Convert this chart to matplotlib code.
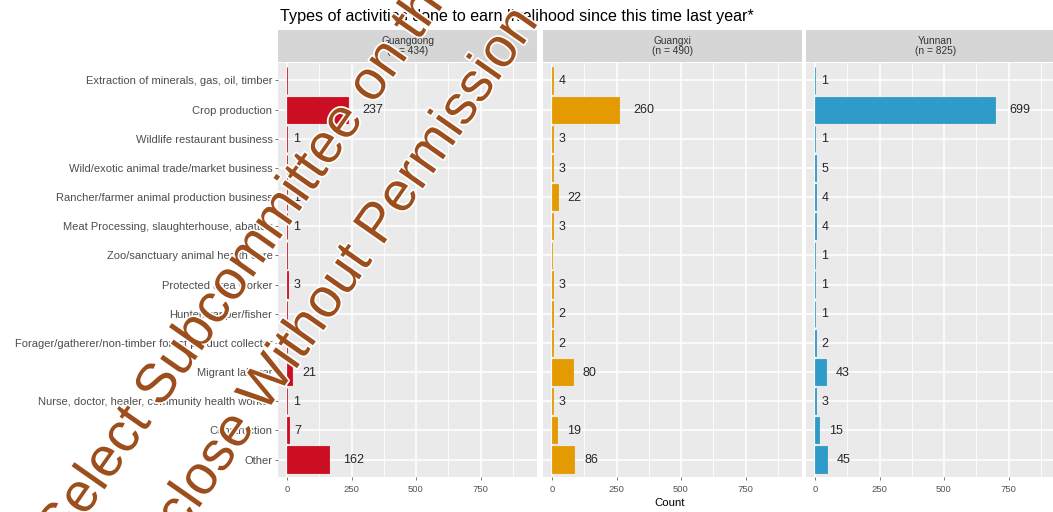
import numpy as np
import matplotlib
matplotlib.use("Agg")
import matplotlib.pyplot as plt
import matplotlib.patheffects as pe

plt.rcParams['font.family'] = "Liberation Sans"
plt.rcParams['axes.linewidth'] = 0

activities = [
    "Extraction of minerals, gas, oil, timber",
    "Crop production",
    "Wildlife restaurant business",
    "Wild/exotic animal trade/market business",
    "Rancher/farmer animal production business",
    "Meat Processing, slaughterhouse, abattoir",
    "Zoo/sanctuary animal health care",
    "Protected area worker",
    "Hunter/trapper/fisher",
    "Forager/gatherer/non-timber forest product collector",
    "Migrant laborer",
    "Nurse, doctor, healer, community health worker",
    "Construction",
    "Other",
]

provinces = ["Guangdong", "Guangxi", "Yunnan"]
sample_sizes = [434, 490, 825]
nan = np.nan
guangdong = [nan, 237, 1, nan, 1, 1, nan, 3, nan, nan, 21, 1, 7, 162]
guangxi = [4, 260, 3, 3, 22, 3, nan, 3, 2, 2, 80, 3, 19, 86]
yunnan = [1, 699, 1, 5, 4, 4, 1, 1, 1, 2, 43, 3, 15, 45]
counts = [guangdong, guangxi, yunnan]
colors = ["#cc0e22", "#e49b02", "#2f9bc8"]
x_ticks = [0, 250, 500, 750]

W, H = 1053, 512
fig = plt.figure(figsize=(W / 100, H / 100), dpi=100)

panel_left = [278, 543, 806]
panel_w = 259
panel_top, panel_bottom = 63, 477
strip_top = 30

y = np.arange(len(activities))

for i, (name, n, vals, col) in enumerate(zip(provinces, sample_sizes, counts, colors)):
    left = panel_left[i] / W
    ax = fig.add_axes([left, 1 - panel_bottom / H, panel_w / W, (panel_bottom - panel_top) / H])
    ax.set_facecolor("#eaeaea")
    ax.set_xlim(-35, 969)
    ax.set_ylim(len(activities) - 0.4, -0.6)

    # white grid, minor lines halfway between the majors
    for xv in np.arange(0, 1000, 125):
        ax.axvline(xv, color="white", lw=1.1 if xv % 250 == 0 else 0.6, zorder=0)
    for yv in y:
        ax.axhline(yv, color="white", lw=1.1, zorder=0)

    vals = np.array(vals, dtype=float)
    ax.barh(y, np.nan_to_num(vals), height=0.9, color=col, edgecolor=col, lw=0.6, zorder=2)
    for yi, v in zip(y, vals):
        if np.isnan(v):
            continue
        label = str(int(v))
        ax.annotate(label, (v, yi), xytext=(1.0 + 3.1 * len(label), -0.5),
                    textcoords="offset points", ha="left", va="center",
                    fontsize=9, color="#262626", zorder=3)

    ax.set_xticks(x_ticks)
    ax.set_xticklabels([str(t) for t in x_ticks])
    ax.tick_params(axis="x", length=2.5, width=0.5, color="#444444", labelsize=6.8,
                   labelcolor="#555555", pad=3)
    ax.set_yticks(y)
    if i == 0:
        ax.set_yticklabels(activities)
        ax.tick_params(axis="y", length=2.5, width=0.5, color="#444444", labelsize=8.0,
                       labelcolor="#4d4d4d", pad=1.5)
    else:
        ax.set_yticklabels([])
        ax.tick_params(axis="y", length=0)

    strip = fig.add_axes([left, 1 - (panel_top - 1) / H, panel_w / W, (panel_top - 1 - strip_top) / H])
    strip.set_facecolor("#d6d6d6")
    strip.set_xticks([])
    strip.set_yticks([])
    strip.text(0.5, 0.5, f"{name}\n(n = {n})", ha="center", va="center",
               fontsize=7.3, color="#333333", linespacing=1.0, transform=strip.transAxes)

fig.text(280 / W, 1 - 16 / H, "Types of activities done to earn livelihood since this time last year*",
         ha="left", va="center", fontsize=11.6, color="black")
fig.text(670 / W, 1 - 503 / H, "Count", ha="center", va="center", fontsize=8.2, color="black")

# diagonal watermark
mark_style = dict(rotation=55, rotation_mode="anchor", ha="left", va="center",
                  fontsize=40, color="#9c4e1c", zorder=10,
                  path_effects=[pe.withStroke(linewidth=2.5, foreground="white")])
fig.text(52 / W, 1 - 540 / H, "Select Subcommittee on the", **mark_style)
fig.text(16 / W, 1 - 745 / H, "Do Not Disclose Without Permission", **mark_style)

fig.savefig("out.png", dpi=100)
